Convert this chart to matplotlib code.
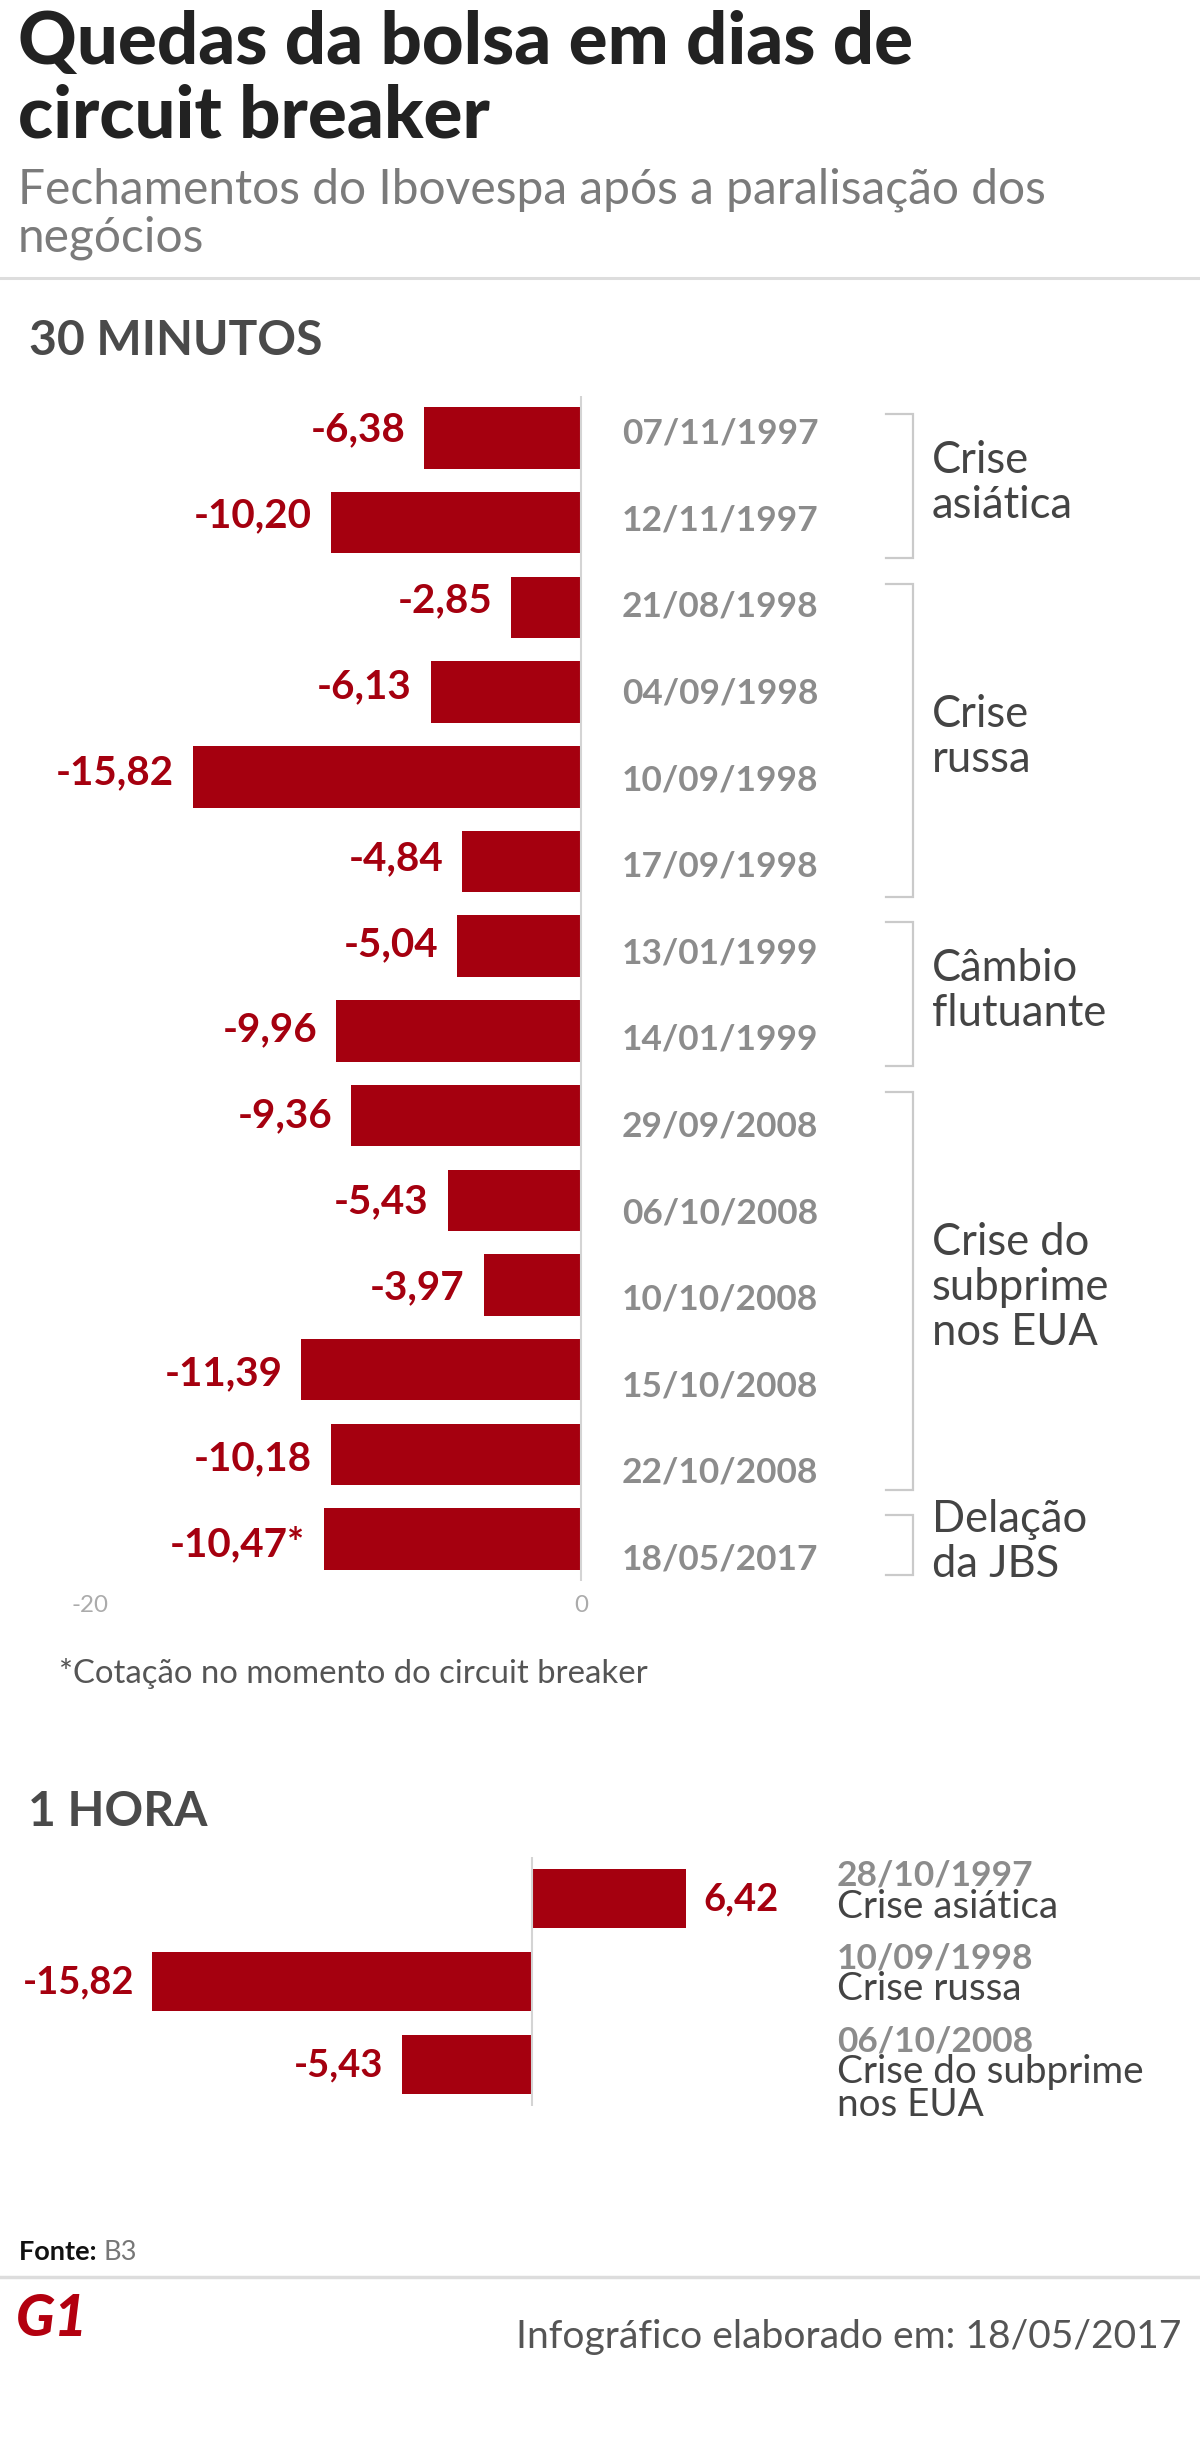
import matplotlib
matplotlib.use('Agg')
import matplotlib.pyplot as plt
import matplotlib.transforms as mtrans
from matplotlib.lines import Line2D

W, H = 1200, 2441
plt.rcParams['font.family'] = ['Lato', 'DejaVu Sans']

# 30 minutos
dates_30 = ['07/11/1997', '12/11/1997', '21/08/1998', '04/09/1998', '10/09/1998',
            '17/09/1998', '13/01/1999', '14/01/1999', '29/09/2008', '06/10/2008',
            '10/10/2008', '15/10/2008', '22/10/2008', '18/05/2017']
vals_30 = [-6.38, -10.20, -2.85, -6.13, -15.82, -4.84, -5.04, -9.96, -9.36, -5.43,
           -3.97, -11.39, -10.18, -10.47]
notes_30 = [''] * 13 + ['*']
groups_30 = ['Crise\nasiática', 'Crise\nrussa', 'Câmbio\nflutuante',
             'Crise do\nsubprime\nnos EUA', 'Delação\nda JBS']
group_rows = [(0, 1), (2, 5), (6, 7), (8, 12), (13, 13)]
xticks_30 = [-20, 0]

# 1 hora
dates_1h = ['28/10/1997', '10/09/1998', '06/10/2008']
vals_1h = [6.42, -15.82, -5.43]
desc_1h = ['Crise asiática', 'Crise russa', 'Crise do subprime\nnos EUA']

RED = '#a5000f'
GREY_DATE = '#8c8c8c'
DARK = '#444444'

fig = plt.figure(figsize=(W / 100, H / 100), dpi=100)
R = fig.canvas.get_renderer()


def ftext(x, y, s, **kw):
    # x, y in pixels, y measured from the top
    return fig.text(x / W, 1 - y / H, s, va=kw.pop('va', 'baseline'), **kw)


def size_for(s, width, **kw):
    t = fig.text(0, 0, s, fontsize=20, **kw)
    w = t.get_window_extent(R).width
    t.remove()
    return 20 * width / w


def brl(v):
    return f'{v:.2f}'.replace('.', ',')


title_fs = size_for('Quedas da bolsa em dias de', 896, weight='black')
sub_fs = size_for('Fechamentos do Ibovespa após a paralisação dos', 1028)
head_fs = size_for('30 MINUTOS', 293, weight='bold')
val_fs = size_for('-6,38', 95, weight='bold')
date_fs = size_for('07/11/1997', 196, weight='bold')
group_fs = size_for('subprime', 178)
tick_fs = size_for('-20', 37)
note_fs = size_for('*Cotação no momento do circuit breaker', 588)
val2_fs = size_for('-15,82', 112, weight='bold')
desc_fs = size_for('Crise do subprime', 308)
foot_fs = size_for('Infográfico elaborado em: 18/05/2017', 666)
logo_fs = size_for('G1', 72, weight='black', style='italic')
fonte_fs = 19.5

# header
ftext(18, 64, 'Quedas da bolsa em dias de', fontsize=title_fs, weight='black', color='#222222')
ftext(18, 137, 'circuit breaker', fontsize=title_fs, weight='black', color='#222222')
ftext(18, 203, 'Fechamentos do Ibovespa após a paralisação dos', fontsize=sub_fs, color='#7b7b7b')
ftext(18, 252, 'negócios', fontsize=sub_fs, color='#7b7b7b')
fig.add_artist(Line2D([0, 1], [1 - 278 / H] * 2, color='#dddddd', lw=2.2))
ftext(29, 355, '30 MINUTOS', fontsize=head_fs, weight='bold', color='#4a4a4a')

# ---- 30 minutos chart
ROW = 84.7
c0 = 438
ax = fig.add_axes([0, 1 - (c0 + 13.5 * ROW) / H, 1, 14 * ROW / H])
ax.set_ylim(13.5, -0.5)
ax.set_xlim(-581 / 24.55, (W - 581) / 24.55)
ax.barh(range(len(vals_30)), vals_30, height=0.726, color=RED)
ax.axvline(0, color='#d4d4d4', lw=1.5)
tr = mtrans.blended_transform_factory(ax.transAxes, ax.transData)

for i, (v, n) in enumerate(zip(vals_30, notes_30)):
    ax.annotate(brl(v) + n, (v, i * 1.013 + 0.036), xytext=(-19 * 0.72, 0),
                textcoords='offset points', ha='right', va='baseline',
                fontsize=val_fs, weight='bold', color=RED)

for i, d in enumerate(dates_30):
    ax.text(622 / W, i * 1.0225 + 0.066, d, transform=tr, ha='left', va='baseline',
            fontsize=date_fs, weight='bold', color=GREY_DATE)

bx, tx = 912.5 / W, 886 / W
for (a, b), g in zip(group_rows, groups_30):
    y0, y1 = a - 0.28, b + 0.42
    ax.plot([tx, bx, bx, tx], [y0, y0, y1, y1], transform=tr, color='#cacaca',
            lw=1.6, solid_joinstyle='miter', clip_on=False)
    lines = g.split('\n')
    mid = (a + b) / 2 + 0.03
    for k, line in enumerate(lines):
        yb = mid + (k - (len(lines) - 1) / 2) * 45 / ROW + 12.5 / ROW
        ax.text(932 / W, yb, line, transform=tr, ha='left', va='baseline',
                fontsize=group_fs, color=DARK)

ax.set_xticks(xticks_30, [str(t) for t in xticks_30])
ax.tick_params(axis='x', length=0, pad=9.7, labelsize=tick_fs, labelcolor='#ababab')
ax.set_yticks([])
for s in ax.spines.values():
    s.set_visible(False)

ftext(59, 1683, '*Cotação no momento do circuit breaker', fontsize=note_fs, color='#555555')

# ---- 1 hora chart
ftext(28, 1826, '1 HORA', fontsize=head_fs, weight='bold', color='#4a4a4a')

ROW2 = 83
c1 = 1898.5
ax2 = fig.add_axes([0, 1 - (c1 + 2.5 * ROW2) / H, 1, 3 * ROW2 / H])
ax2.set_ylim(2.5, -0.5)
ax2.set_xlim(-532 / 24.0, (W - 532) / 24.0)
ax2.barh(range(len(vals_1h)), vals_1h, height=0.71, color=RED)
ax2.axvline(0, color='#d4d4d4', lw=1.5)
ax2.axis('off')
tr2 = mtrans.blended_transform_factory(ax2.transAxes, ax2.transData)

for i, v in enumerate(vals_1h):
    off = 17 * 0.72 if v > 0 else -18 * 0.72
    ax2.annotate(brl(v), (v, i + 0.14), xytext=(off, 0), textcoords='offset points',
                 ha='left' if v > 0 else 'right', va='baseline',
                 fontsize=val2_fs, weight='bold', color=RED)

for i, (d, s) in enumerate(zip(dates_1h, desc_1h)):
    ax2.text(837 / W, i - 13 / ROW2, d, transform=tr2, ha='left', va='baseline',
             fontsize=date_fs, weight='bold', color=GREY_DATE)
    for k, line in enumerate(s.split('\n')):
        ax2.text(837 / W, i + (19 + 32 * k) / ROW2, line, transform=tr2, ha='left',
                 va='baseline', fontsize=desc_fs, color=DARK)

# ---- footer
t = ftext(19, 2260, 'Fonte: ', fontsize=fonte_fs, weight='bold', color='#111111')
x1 = t.get_window_extent(R).x1
ftext(x1, 2260, 'B3', fontsize=fonte_fs, color='#777777')
fig.add_artist(Line2D([0, 1], [1 - 2277 / H] * 2, color='#dddddd', lw=2.5))
ftext(16, 2336, 'G1', fontsize=logo_fs, weight='black', style='italic', color='#b3000f')
ftext(1181, 2348, 'Infográfico elaborado em: 18/05/2017', fontsize=foot_fs,
      ha='right', color='#555555')

fig.savefig('out.png', dpi=100, facecolor='white')
